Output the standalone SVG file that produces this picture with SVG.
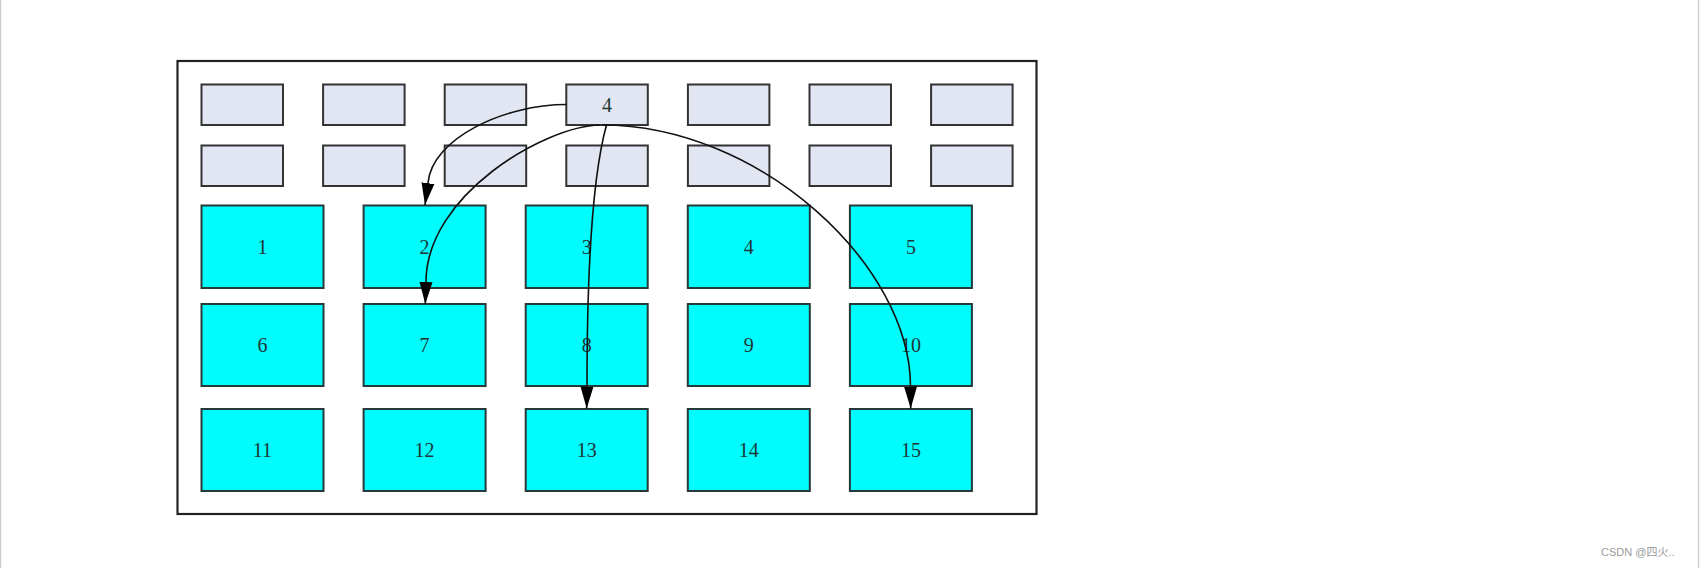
<svg xmlns="http://www.w3.org/2000/svg" width="1702" height="568" viewBox="0 0 1702 568">
  <style>
    .gray rect { fill: #e2e6f2; stroke: #333333; stroke-width: 2; }
    .cyan rect { fill: #00fcfc; stroke: #263838; stroke-width: 2; }
    .lbl { font-family: "Liberation Serif", "Times New Roman", serif; font-size: 20px; fill: #1e3636; text-anchor: middle; }
    .edge { fill: none; stroke: #111111; stroke-width: 1.6; marker-end: url(#arrow); }
    .wm { font-family: "Liberation Sans", "Noto Sans CJK SC", sans-serif; font-size: 11px; fill: #9a9a9a; }
  </style>
  <defs>
    <marker id="arrow" markerUnits="userSpaceOnUse" markerWidth="23" markerHeight="14" refX="22" refY="7" orient="auto">
      <path d="M0,0.5 L22,7 L0,13.5 z" fill="#000000"/>
    </marker>
  </defs>
  <rect x="0" y="0" width="1702" height="568" fill="#ffffff"/>
  <line x1="0.5" y1="0" x2="0.5" y2="568" stroke="#cfcfcf" stroke-width="1.5"/>
  <line x1="1698.5" y1="0" x2="1698.5" y2="568" stroke="#cfcfcf" stroke-width="1.5"/>

  <g id="frame">
    <rect x="177.5" y="61" width="859" height="453" fill="#ffffff" stroke="#222222" stroke-width="2.2"/>
  </g>

  <g id="g1" class="gray"><rect x="201.5" y="84.5" width="81.5" height="40.5"/></g>
  <g id="g2" class="gray"><rect x="323.1" y="84.5" width="81.5" height="40.5"/></g>
  <g id="g3" class="gray"><rect x="444.7" y="84.5" width="81.5" height="40.5"/></g>
  <g id="g4" class="gray"><rect x="566.3" y="84.5" width="81.5" height="40.5"/><text class="lbl" x="607" y="111.5">4</text></g>
  <g id="g5" class="gray"><rect x="687.9" y="84.5" width="81.5" height="40.5"/></g>
  <g id="g6" class="gray"><rect x="809.5" y="84.5" width="81.5" height="40.5"/></g>
  <g id="g7" class="gray"><rect x="931.1" y="84.5" width="81.5" height="40.5"/></g>

  <g id="g8" class="gray"><rect x="201.5" y="145.5" width="81.5" height="40.5"/></g>
  <g id="g9" class="gray"><rect x="323.1" y="145.5" width="81.5" height="40.5"/></g>
  <g id="g10" class="gray"><rect x="444.7" y="145.5" width="81.5" height="40.5"/></g>
  <g id="g11" class="gray"><rect x="566.3" y="145.5" width="81.5" height="40.5"/></g>
  <g id="g12" class="gray"><rect x="687.9" y="145.5" width="81.5" height="40.5"/></g>
  <g id="g13" class="gray"><rect x="809.5" y="145.5" width="81.5" height="40.5"/></g>
  <g id="g14" class="gray"><rect x="931.1" y="145.5" width="81.5" height="40.5"/></g>

  <g id="n1" class="cyan"><rect x="201.5" y="205.5" width="122" height="82.5"/><text class="lbl" x="262.5" y="253.5">1</text></g>
  <g id="n2" class="cyan"><rect x="363.6" y="205.5" width="122" height="82.5"/><text class="lbl" x="424.6" y="253.5">2</text></g>
  <g id="n3" class="cyan"><rect x="525.7" y="205.5" width="122" height="82.5"/><text class="lbl" x="586.7" y="253.5">3</text></g>
  <g id="n4" class="cyan"><rect x="687.8" y="205.5" width="122" height="82.5"/><text class="lbl" x="748.8" y="253.5">4</text></g>
  <g id="n5" class="cyan"><rect x="849.9" y="205.5" width="122" height="82.5"/><text class="lbl" x="910.9" y="253.5">5</text></g>

  <g id="n6" class="cyan"><rect x="201.5" y="304" width="122" height="82"/><text class="lbl" x="262.5" y="352">6</text></g>
  <g id="n7" class="cyan"><rect x="363.6" y="304" width="122" height="82"/><text class="lbl" x="424.6" y="352">7</text></g>
  <g id="n8" class="cyan"><rect x="525.7" y="304" width="122" height="82"/><text class="lbl" x="586.7" y="352">8</text></g>
  <g id="n9" class="cyan"><rect x="687.8" y="304" width="122" height="82"/><text class="lbl" x="748.8" y="352">9</text></g>
  <g id="n10" class="cyan"><rect x="849.9" y="304" width="122" height="82"/><text class="lbl" x="910.9" y="352">10</text></g>

  <g id="n11" class="cyan"><rect x="201.5" y="409" width="122" height="82"/><text class="lbl" x="262.5" y="457">11</text></g>
  <g id="n12" class="cyan"><rect x="363.6" y="409" width="122" height="82"/><text class="lbl" x="424.6" y="457">12</text></g>
  <g id="n13" class="cyan"><rect x="525.7" y="409" width="122" height="82"/><text class="lbl" x="586.7" y="457">13</text></g>
  <g id="n14" class="cyan"><rect x="687.8" y="409" width="122" height="82"/><text class="lbl" x="748.8" y="457">14</text></g>
  <g id="n15" class="cyan"><rect x="849.9" y="409" width="122" height="82"/><text class="lbl" x="910.9" y="457">15</text></g>

  <g id="connectors">
    <path class="edge" d="M566.3,104.5 C505,104.5 432,138 428,183 L425,205"/>
    <path class="edge" d="M600,125 C545,126 426,195 426,282 L425.3,304"/>
    <path class="edge" d="M606.5,125 C594,170 587,250 587,386 L586.7,408.5"/>
    <path class="edge" d="M602,125 C760,125 910,265 910.5,386 L910.7,408.5"/>
  </g>

  <text class="wm" x="1601" y="556">CSDN @四火..</text>
</svg>
